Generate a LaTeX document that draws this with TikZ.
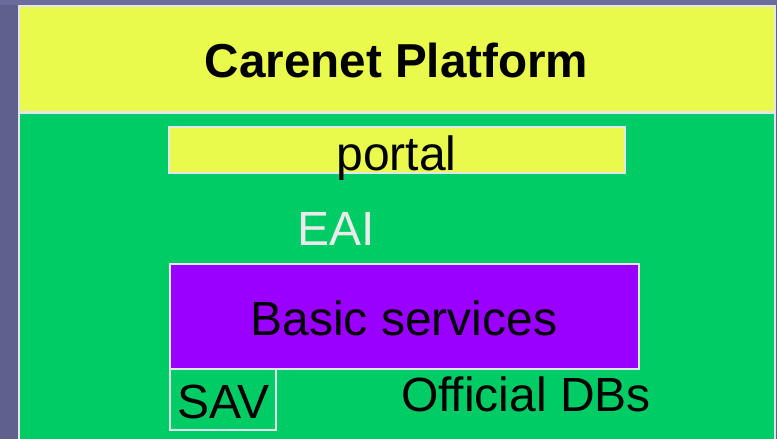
\documentclass[tikz,border=0pt]{standalone}
\usepackage{fontspec}
\setmainfont{Liberation Sans}
\definecolor{bgpurple}{RGB}{96,96,142}
\definecolor{bgtop}{RGB}{108,108,156}
\definecolor{cyellow}{RGB}{234,250,76}
\definecolor{cgreen}{RGB}{0,204,102}
\definecolor{cpurple}{RGB}{153,0,255}
\definecolor{cborder}{RGB}{228,228,236}
\definecolor{ceai}{RGB}{234,234,234}
\begin{document}
\begin{tikzpicture}[x=1pt,y=-1pt,
  box/.style={draw=cborder,line width=1.5pt,inner sep=0pt,outer sep=0pt,anchor=north west},
  lbl/.style={anchor=base,inner sep=0pt,font=\fontsize{48}{50}\selectfont}]
\useasboundingbox (0,0) rectangle (777,439);
\fill[bgpurple] (0,0) rectangle (777,439);
\fill[bgtop] (0,0) rectangle (777,5);
% main boxes
\node[box,fill=cgreen,minimum width=756pt,minimum height=340pt] (green) at (19,113) {};
\node[box,fill=cyellow,minimum width=756pt,minimum height=106pt] (title) at (19,6) {};
\node[box,fill=cyellow,minimum width=456pt,minimum height=46pt] (portal) at (169,127) {};
\node[box,fill=cpurple,minimum width=469pt,minimum height=105pt] (basic) at (170,264) {};
\node[box,fill=cgreen,minimum width=106pt,minimum height=61pt] (sav) at (170,369) {};
% labels
\node[lbl,font=\fontsize{47.6}{50}\selectfont\bfseries] (titletext) at (396.5,77) {Carenet Platform};
\node[lbl] (portaltext) at (396.5,170) {portal};
\node[lbl,text=ceai] (eai) at (336,245) {EAI};
\node[lbl] (basictext) at (404,335) {Basic services};
\node[lbl] (savtext) at (223.5,418) {SAV};
\node[lbl] (dbs) at (526,411) {Official DBs};
\end{tikzpicture}
\end{document}
